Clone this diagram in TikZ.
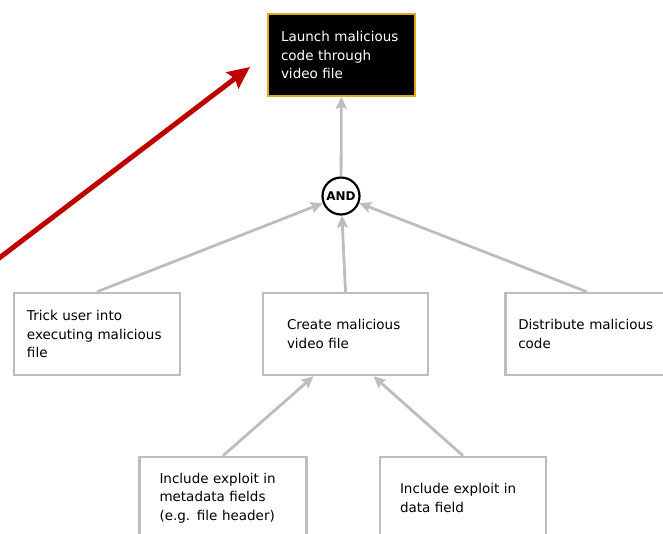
\documentclass[tikz,border=0pt]{standalone}
\usepackage{fontspec}
\setmainfont{DejaVu Sans}
\usetikzlibrary{arrows.meta}
\definecolor{boxgray}{HTML}{BDBDBD}
\definecolor{gold}{HTML}{E0A81C}
\definecolor{darkred}{HTML}{C00000}
\tikzset{
  goalbox/.style={rectangle,draw=gold,line width=1.5pt,fill=black,text=white,
    minimum height=82pt,align=left,inner ysep=0pt},
  leafbox/.style={rectangle,draw=boxgray,line width=2.5pt,fill=white,
    minimum height=82pt,align=left,inner ysep=0pt},
  andgate/.style={circle,draw=black,line width=2.2pt,fill=white,minimum size=37pt,
    inner sep=0pt,font=\fontsize{12}{13}\selectfont\bfseries},
  link/.style={draw=boxgray,line width=2.8pt,
    -{Stealth[length=12pt,width=11pt,inset=2pt]}},
  pointer/.style={draw=darkred,line width=5pt,
    -{Stealth[length=22pt,width=20pt,inset=3pt]}}
}

\begin{document}
\begin{tikzpicture}[x=1pt,y=-1pt,every node/.style={font=\fontsize{13.5}{18.5}\selectfont}]
  \useasboundingbox (0,0) rectangle (663,533);
  \begin{scope}
  \clip (0,0) rectangle (663,533);
  % goal and gate
  \node[goalbox,text width=121pt,inner xsep=13pt] (goal) at (341.5,55)
    {Launch malicious\\code through\\video file};
  \node[andgate] (and) at (341,196) {AND};
  % second level
  \node[leafbox,text width=140pt,inner xsep=13pt] (trick) at (97,334)
    {Trick user into\\executing malicious\\file};
  \node[leafbox,text width=117pt,inner xsep=24pt] (create) at (345.5,334)
    {Create malicious\\video file};
  \node[leafbox,text width=145pt,inner xsep=13pt,anchor=west] (spread) at (504,334)
    {Distribute malicious\\code};
  % third level
  \node[leafbox,text width=127pt,inner xsep=20pt] (meta) at (223,498)
    {Include exploit in\\metadata fields\\(e.g. file header)};
  \node[leafbox,text width=126pt,inner xsep=20pt] (data) at (463,498)
    {Include exploit in\\data field};
  % connectors
  \draw[link] (and) -- (goal);
  \draw[link] (trick.north) -- (and);
  \draw[link] (create.north) -- (and);
  \draw[link] ([xshift=-4pt]spread.north) -- (and);
  \draw[link] (meta.north) -- ([xshift=-32pt]create.south);
  \draw[link] (data.north) -- ([xshift=28pt]create.south);
  % highlight arrow
  \coordinate (src) at (-6,262);
  \coordinate (tip) at (250,67);
  \draw[pointer] (src) -- (tip);
  \end{scope}
\end{tikzpicture}
\end{document}
